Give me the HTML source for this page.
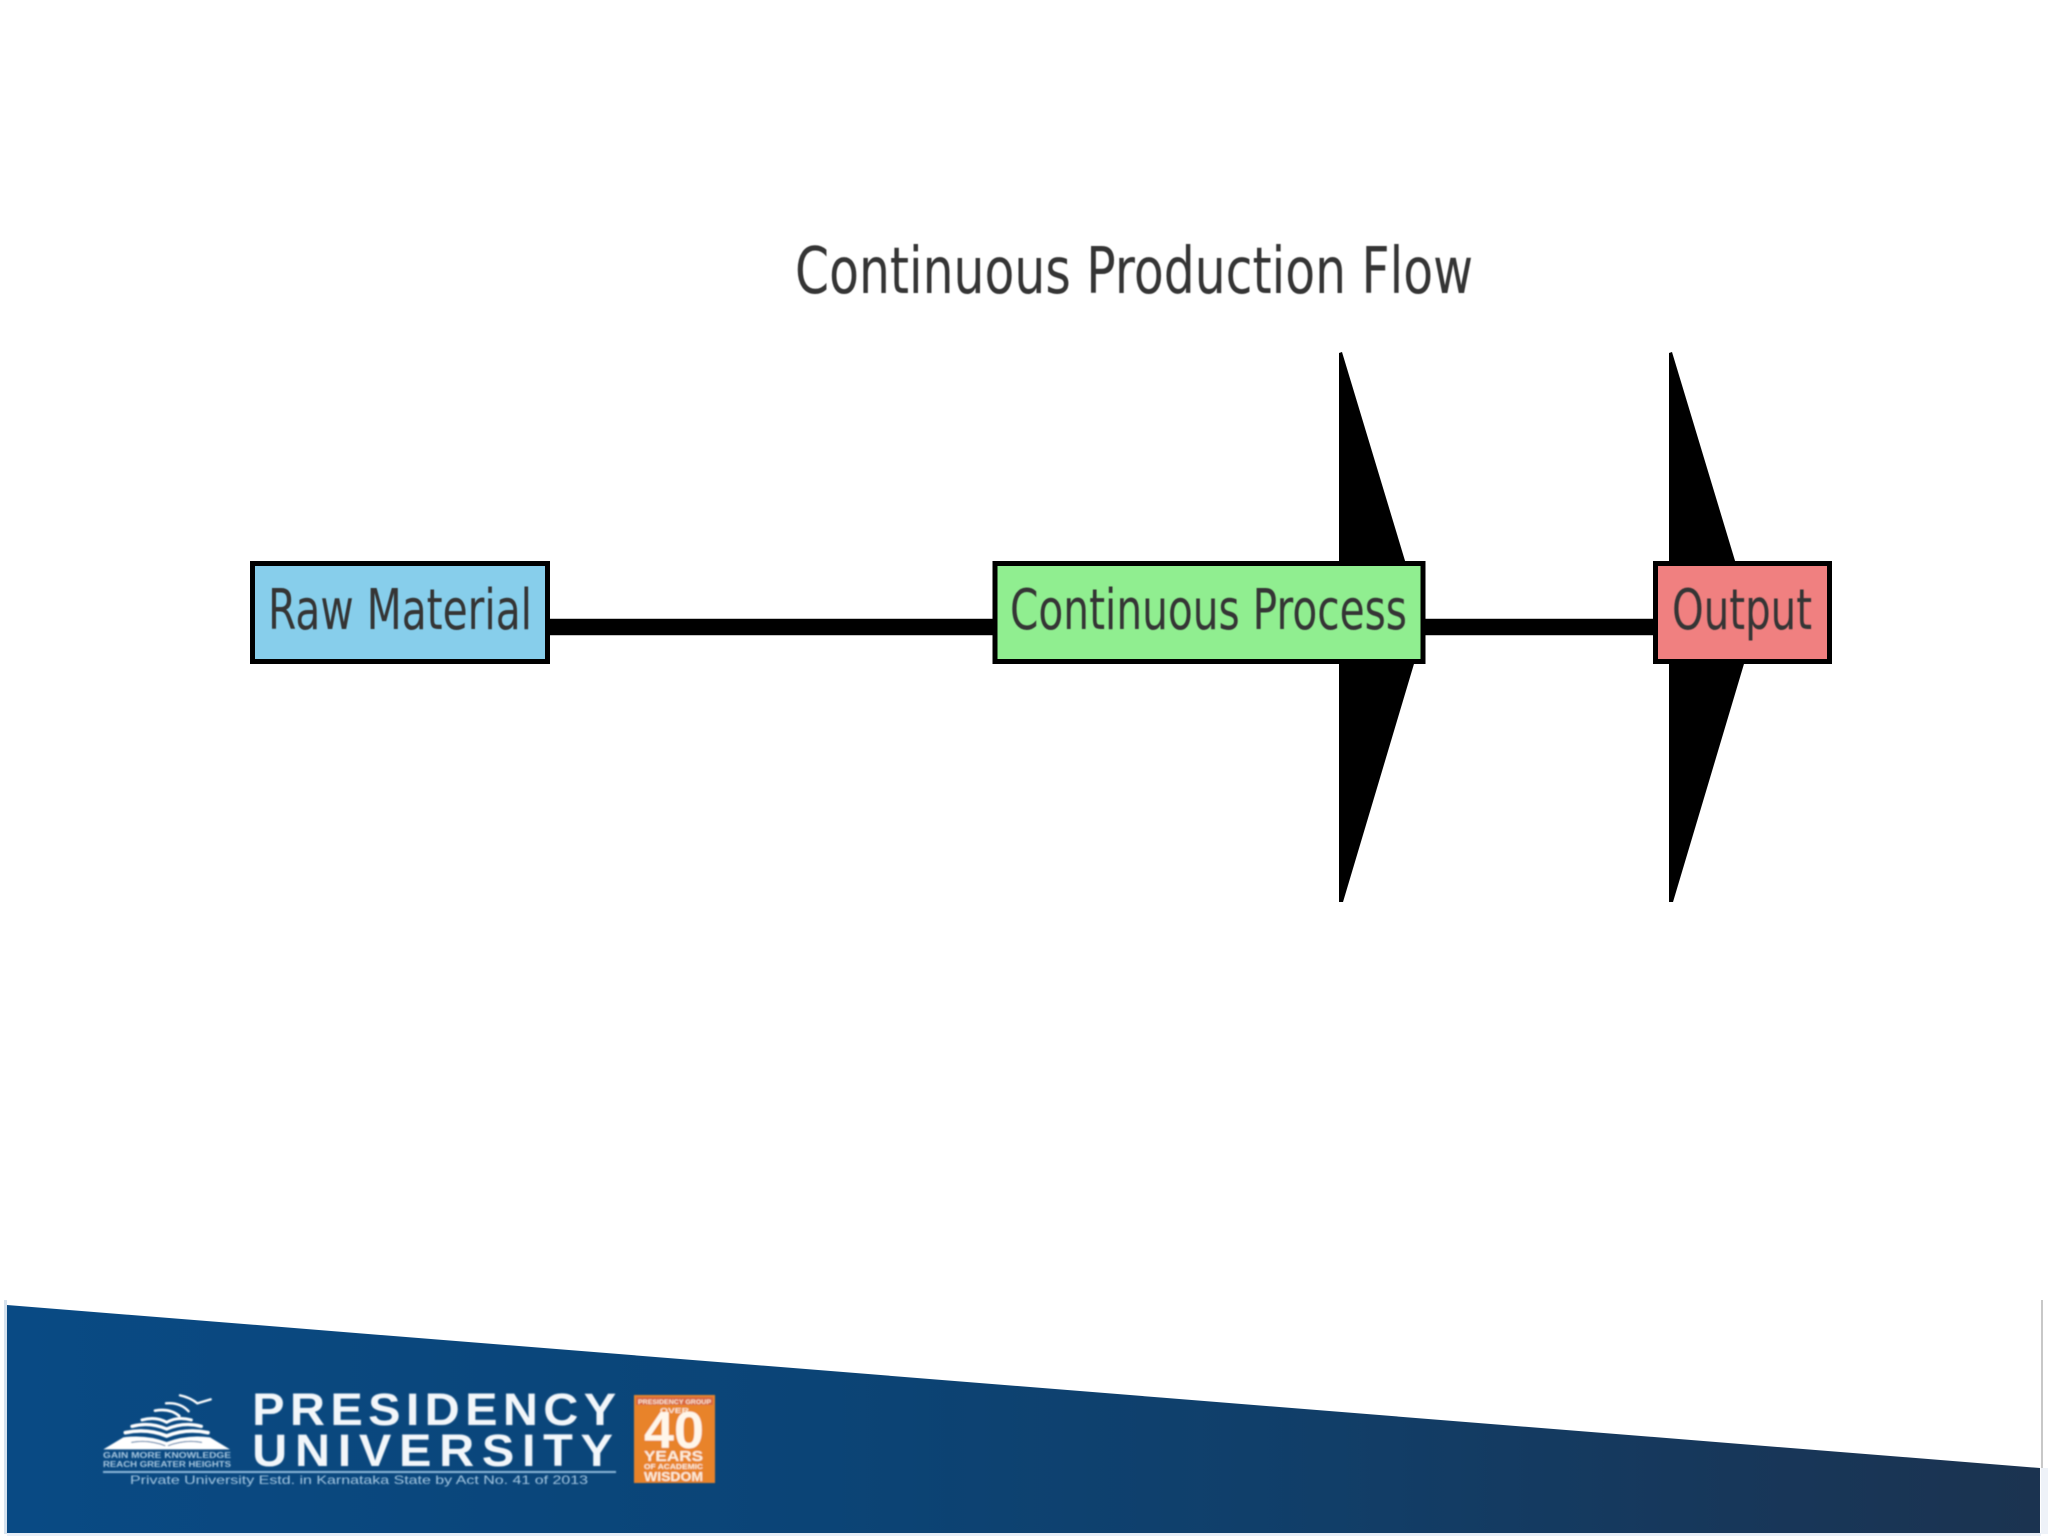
<!DOCTYPE html>
<html>
<head>
<meta charset="utf-8">
<style>
html,body{margin:0;padding:0;background:#fff;width:2048px;height:1536px;overflow:hidden}
svg{display:block}
.d{font-family:"DejaVu Sans",sans-serif;fill:#363636}
.b{font-family:"Liberation Sans",sans-serif;font-weight:bold}
</style>
</head>
<body>
<svg width="2048" height="1536" viewBox="0 0 2048 1536" xmlns="http://www.w3.org/2000/svg">
<defs>
<linearGradient id="g" x1="0" y1="0" x2="1" y2="0">
<stop offset="0" stop-color="#094a84"/>
<stop offset="0.4" stop-color="#0b4476"/>
<stop offset="0.65" stop-color="#113e68"/>
<stop offset="0.85" stop-color="#17375a"/>
<stop offset="1" stop-color="#1b3350"/>
</linearGradient>
<filter id="s" x="-5%" y="-5%" width="110%" height="110%"><feGaussianBlur stdDeviation="0.8"/></filter>
<filter id="t" x="-5%" y="-20%" width="110%" height="140%"><feGaussianBlur stdDeviation="0.45"/></filter>
</defs>
<rect width="2048" height="1536" fill="#fff"/>

<text class="d" x="795" y="293" font-size="64" textLength="678" lengthAdjust="spacingAndGlyphs" filter="url(#t)">Continuous Production Flow</text>

<!-- connectors -->
<rect x="545" y="618" width="1115" height="18" fill="#c4c4c4"/>
<rect x="545" y="619" width="1115" height="16" fill="#000"/>

<!-- arrowheads -->
<polygon points="1339,353 1342,352 1425,627 1343,902 1339,902" fill="#000"/>
<polygon points="1669,353 1672,352 1755,627 1673,902 1669,902" fill="#000"/>

<!-- boxes -->
<rect x="252.5" y="563.5" width="295" height="98" fill="#87ceeb" stroke="#000" stroke-width="5"/>
<rect x="995" y="563.5" width="428" height="98" fill="#90ee90" stroke="#000" stroke-width="5"/>
<rect x="1655.5" y="563.5" width="174" height="98" fill="#f08080" stroke="#000" stroke-width="5"/>

<text class="d" x="268" y="629" font-size="56" textLength="264" lengthAdjust="spacingAndGlyphs" filter="url(#t)">Raw Material</text>
<text class="d" x="1010" y="629" font-size="56" textLength="397" lengthAdjust="spacingAndGlyphs" filter="url(#t)">Continuous Process</text>
<text class="d" x="1672" y="629" font-size="56" textLength="140" lengthAdjust="spacingAndGlyphs" filter="url(#t)">Output</text>

<!-- footer frame -->
<rect x="4" y="1300" width="3" height="234" fill="#d6e2ee"/>
<rect x="2041" y="1300" width="2" height="168" fill="#c8c8c8"/>
<rect x="2041" y="1468" width="7" height="66" fill="#eef2f8"/>
<rect x="7" y="1533" width="2034" height="3" fill="#e8eef6"/>

<!-- footer band -->
<polygon points="7,1305 2040,1468 2040,1533 7,1533" fill="url(#g)"/>

<!-- logo -->
<g filter="url(#s)">
<g transform="translate(90,1380) scale(0.3333)" fill="none" stroke="#fff" stroke-linecap="round">
<path d="M40 208 L100 172 Q170 163 230 186 Q290 163 360 172 L420 208 Z" fill="#fff" stroke="none"/>
<path d="M125 187 Q175 178 225 197 M235 197 Q285 178 335 187" stroke="#2a6499" stroke-width="3"/>
<path d="M106 158 Q170 144 230 168 Q290 144 354 158" stroke-width="11"/>
<path d="M126 139 Q178 125 230 147 Q282 125 334 139" stroke-width="10"/>
<path d="M156 120 Q197 108 230 127 Q263 108 304 120" stroke-width="9"/>
<path d="M195 92 Q240 84 268 108" stroke-width="8"/>
<path d="M228 70 Q270 66 296 94" stroke-width="7"/>
<path d="M270 46 Q300 52 322 70 L362 58" stroke-width="7"/>
</g>
<text class="b" x="103" y="1458" font-size="8" fill="#a9c8e0" textLength="128" lengthAdjust="spacingAndGlyphs">GAIN MORE KNOWLEDGE</text>
<text class="b" x="103" y="1467" font-size="8" fill="#a9c8e0" textLength="128" lengthAdjust="spacingAndGlyphs">REACH GREATER HEIGHTS</text>

<g transform="scale(1.08,1)">
<text class="b" x="233.5" y="1425" font-size="45" fill="#f2f6fa" textLength="337" lengthAdjust="spacing">PRESIDENCY</text>
<text class="b" x="233.5" y="1466" font-size="45" fill="#f2f6fa" textLength="334" lengthAdjust="spacing">UNIVERSITY</text>
</g>
<rect x="103" y="1471" width="513" height="2" fill="#8fb9da"/>
<text x="130" y="1484" font-family="'Liberation Sans',sans-serif" font-size="12" fill="#a5c8e2" textLength="458" lengthAdjust="spacingAndGlyphs">Private University Estd. in Karnataka State by Act No. 41 of 2013</text>

<rect x="634" y="1395" width="81" height="88" fill="#e8832a"/>
<rect x="636" y="1397" width="77" height="8" fill="#d9683f"/>
<text class="b" x="638" y="1404" font-size="6" fill="#fbe6d4" textLength="73" lengthAdjust="spacingAndGlyphs">PRESIDENCY GROUP</text>
<text class="b" x="660" y="1413" font-size="7" fill="#fbe6d4" textLength="29" lengthAdjust="spacingAndGlyphs">OVER</text>
<text class="b" x="644" y="1448" font-size="52" fill="#fff6ea" textLength="60" lengthAdjust="spacingAndGlyphs">40</text>
<text class="b" x="644" y="1461" font-size="15" fill="#fdeedd" textLength="59" lengthAdjust="spacingAndGlyphs">YEARS</text>
<text class="b" x="644" y="1469" font-size="7" fill="#fdeedd" textLength="59" lengthAdjust="spacingAndGlyphs">OF ACADEMIC</text>
<text class="b" x="644" y="1481" font-size="13" fill="#fdeedd" textLength="59" lengthAdjust="spacingAndGlyphs">WISDOM</text>
</g>
</svg>
</body>
</html>
